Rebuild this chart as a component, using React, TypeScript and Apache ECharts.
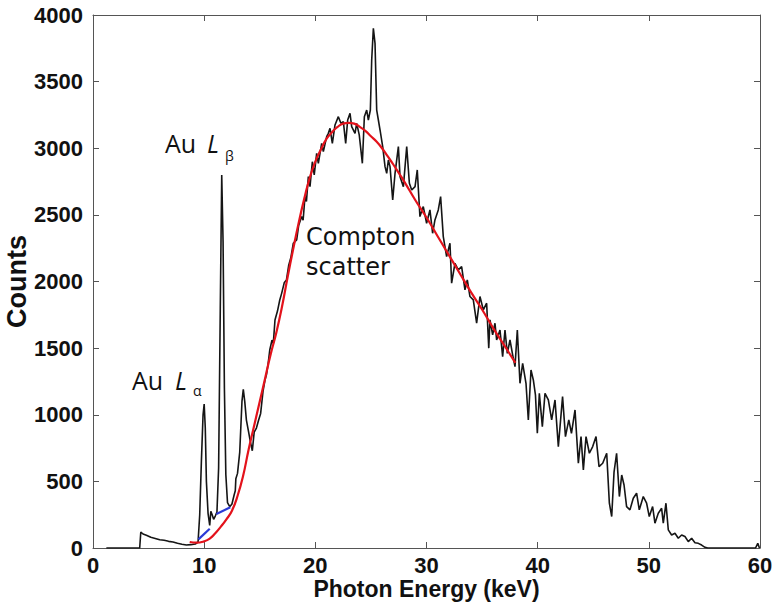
import React, { useEffect, useRef } from "react";
import * as echarts from "echarts";

// Measured spectrum (photon energy in keV, counts)
const specKeV = [
  1.2, 4.2, 4.3, 4.5, 4.8, 5.2, 5.6, 6.0, 6.4, 6.8, 7.2, 7.6, 8.0, 8.4, 8.8, 9.2, 9.45, 9.6, 9.75, 9.9,
  10.0, 10.1, 10.2, 10.35, 10.5, 10.6, 10.72, 10.85, 11.0, 11.15, 11.3, 11.45, 11.58, 11.7, 11.82, 11.95,
  12.1, 12.3, 12.5, 12.7, 12.8, 12.85, 13.0, 13.2, 13.4, 13.52, 13.65, 13.8, 14.0, 14.15, 14.33, 14.5,
  14.7, 14.9, 15.08, 15.3, 15.47, 15.6, 15.75, 15.9, 16.1, 16.22, 16.37, 16.6, 16.8, 16.97, 17.2, 17.4,
  17.6, 17.8, 18.02, 18.32, 18.5, 18.77, 18.9, 19.07, 19.2, 19.37, 19.52, 19.73, 19.9, 20.12, 20.27,
  20.57, 20.72, 21.02, 21.17, 21.32, 21.53, 21.77, 22.07, 22.3, 22.52, 22.73, 22.91, 23.12, 23.27,
  23.57, 23.72, 23.95, 24.23, 24.41, 24.62, 24.77, 24.95, 25.07, 25.22, 25.37, 25.52, 25.67, 25.82,
  26.06, 26.27, 26.42, 26.57, 26.72, 26.96, 27.17, 27.47, 27.62, 27.92, 28.22, 28.46, 28.67, 28.97,
  29.17, 29.41, 29.71, 30.01, 30.31, 30.55, 30.76, 31.06, 31.27, 31.51, 31.81, 32.11, 32.26, 32.56,
  32.86, 33.16, 33.46, 33.67, 33.91, 34.21, 34.51, 34.81, 35.11, 35.41, 35.6, 35.71, 35.95, 36.16,
  36.31, 36.61, 36.85, 37.06, 37.27, 37.51, 37.75, 37.96, 38.17, 38.41, 38.65, 38.95, 39.16, 39.4,
  39.61, 39.8, 39.97, 40.15, 40.42, 40.66, 40.96, 41.26, 41.56, 41.86, 42.24, 42.5, 42.8, 43.04,
  43.36, 43.66, 43.9, 44.11, 44.35, 44.65, 44.95, 45.25, 45.52, 45.85, 46.21, 46.45, 46.66, 46.87,
  47.1, 47.35, 47.56, 47.77, 48.0, 48.3, 48.6, 48.9, 49.14, 49.5, 49.8, 50.04, 50.34, 50.55, 50.85,
  51.15, 51.3, 51.54, 51.75, 52.05, 52.35, 52.65, 52.95, 53.25, 53.55, 53.85, 54.15, 54.45, 54.75,
  55.05, 55.3, 59.6, 59.8, 59.95, 60,
];
const specCounts = [
  0, 0, 120, 105, 95, 80, 72, 62, 58, 50, 45, 35, 28, 22, 25, 30, 45, 250, 650, 1000,
  1080, 900, 500, 260, 170, 275, 250, 215, 240, 270, 600, 1800, 2800, 2300, 1200, 550,
  340, 310, 330, 400, 430, 520, 560, 720, 1100, 1190, 1100, 960, 870, 800, 730, 870,
  900, 960, 1010, 1180, 1260, 1300, 1380, 1486, 1560, 1536, 1711, 1780, 1861, 1911, 1990, 2011,
  2120, 2180, 2287, 2312, 2420, 2487, 2460, 2637, 2600, 2787, 2712, 2899, 2800, 2962, 2887,
  3037, 2975, 3087, 3112, 3150, 3037, 3175, 3237, 3187, 3200, 3037, 3212, 3262, 3162,
  3112, 3187, 3100, 2887, 3237, 3287, 3212, 3287, 3662, 3900, 3787, 3287, 3212, 3137,
  3012, 2862, 2812, 2912, 2862, 2612, 2812, 3012, 2787, 2712, 3012, 2737, 2687, 2712,
  2837, 2487, 2562, 2437, 2537, 2362, 2462, 2537, 2637, 2337, 2187, 2287, 1987, 2137,
  2087, 2112, 1937, 2012, 1887, 1862, 1687, 1887, 1787, 1837, 1500, 1712, 1600, 1687,
  1561, 1636, 1436, 1636, 1461, 1561, 1450, 1361, 1636, 1236, 1386, 1236, 961, 1336,
  1261, 1150, 861, 1161, 911, 1161, 1111, 961, 1111, 761, 1136, 836, 961, 861,
  1036, 636, 836, 586, 836, 711, 761, 836, 611, 636, 711, 336, 236, 570,
  711, 386, 548, 473, 311, 286, 373, 411, 286, 386, 336, 236, 311, 186, 261,
  298, 186, 336, 136, 98, 111, 73, 98, 86, 48, 73, 40, 35, 22,
  5, 0, 0, 35, 0, 0,
];

// Compton scatter fit (red)
const fitKeV = [
  8.7, 9.3, 10, 10.5, 11, 11.5, 12, 12.5, 13, 13.5, 14, 14.5, 15, 15.5, 16, 16.5, 17, 17.5, 18, 18.5,
  19, 19.5, 20, 20.5, 21, 21.5, 22, 22.5, 23, 23.5, 24, 24.5, 25, 25.5, 26, 26.5, 27, 27.5, 28, 29,
  30, 31, 32, 33, 34, 35, 36, 37, 38,
];
const fitCounts = [
  45, 40, 50, 70, 110, 160, 215, 280, 390, 540, 740, 920, 1100, 1280, 1460, 1620, 1810, 2030, 2240, 2440,
  2620, 2780, 2900, 2990, 3070, 3120, 3160, 3185, 3190, 3185, 3160, 3130, 3090, 3050, 3000, 2940, 2880, 2815, 2750, 2610,
  2480, 2340, 2200, 2060, 1920, 1790, 1650, 1520, 1390,
];

// Linear backgrounds under the Au L peaks (blue)
const bgLaKeV = [9.48, 10.5];
const bgLaCounts = [65, 145];
const bgLbKeV = [11.1, 12.35];
const bgLbCounts = [255, 305];

const xMin = 0, xMax = 60, xStep = 10;
const yMin = 0, yMax = 4000, yStep = 500;

const pairs = (xs: number[], ys: number[]) => xs.map((x, i) => [x, ys[i]]);

const AXIS_COLOR = "#555";
const LABEL_FONT = "'Liberation Sans', Arial, sans-serif";
const NOTE_FONT = "'Open Sans', 'DejaVu Sans', sans-serif";
const COMPTON_FONT = "'DejaVu Sans', 'Open Sans', sans-serif";

export default function App() {
  const ref = useRef<HTMLDivElement>(null);
  useEffect(() => {
    if (!ref.current) return;
    const chart = echarts.init(ref.current, null, { renderer: "svg" });
    const baseAxisLine = { show: true, onZero: false, lineStyle: { color: AXIS_COLOR, width: 1 } };
    const tick = { show: true, inside: true, length: 6, lineStyle: { color: AXIS_COLOR } };
    const labelStyle = { color: "#111", fontFamily: LABEL_FONT, fontWeight: "bold", fontSize: 22, formatter: (v: number) => String(v) };
    chart.setOption({
      animation: false,
      backgroundColor: "#fff",
      grid: { left: 93, right: 20, top: 15, bottom: 57, containLabel: false, outerBoundsMode: "none" },
      xAxis: [
        {
          type: "value", min: xMin, max: xMax, interval: xStep, position: "bottom",
          axisLine: baseAxisLine, axisTick: tick, splitLine: { show: false },
          axisLabel: { ...labelStyle, margin: 6 },
          name: "Photon Energy (keV)", nameLocation: "middle", nameGap: 29, nameMoveOverlap: false,
          nameTextStyle: { color: "#111", fontFamily: LABEL_FONT, fontWeight: "bold", fontSize: 23 },
        },
        {
          type: "value", min: xMin, max: xMax, interval: xStep, position: "top",
          axisLine: baseAxisLine, axisTick: tick, axisLabel: { show: false }, splitLine: { show: false },
        },
      ],
      yAxis: [
        {
          type: "value", min: yMin, max: yMax, interval: yStep, position: "left",
          axisLine: baseAxisLine, axisTick: tick, splitLine: { show: false },
          axisLabel: { ...labelStyle, margin: 10 },
          name: "Counts", nameLocation: "middle", nameGap: 63, nameRotate: 90, nameMoveOverlap: false,
          nameTextStyle: { color: "#111", fontFamily: LABEL_FONT, fontWeight: "bold", fontSize: 27 },
        },
        {
          type: "value", min: yMin, max: yMax, interval: yStep, position: "right",
          axisLine: baseAxisLine, axisTick: tick, axisLabel: { show: false }, splitLine: { show: false },
        },
      ],
      series: [
        {
          name: "Spectrum", type: "line", data: pairs(specKeV, specCounts), showSymbol: false,
          lineStyle: { color: "#151515", width: 1.6 }, z: 2,
        },
        {
          name: "Compton fit", type: "line", data: pairs(fitKeV, fitCounts), showSymbol: false, smooth: true,
          lineStyle: { color: "#e3121b", width: 2.2 }, z: 3,
        },
        {
          name: "Au La background", type: "line", data: pairs(bgLaKeV, bgLaCounts), showSymbol: false,
          lineStyle: { color: "#2b3ad6", width: 2.2 }, z: 4,
        },
        {
          name: "Au Lb background", type: "line", data: pairs(bgLbKeV, bgLbCounts), showSymbol: false,
          lineStyle: { color: "#2b3ad6", width: 2.2 }, z: 4,
        },
      ],
      graphic: [
        { type: "text", left: 165, top: 130, style: { text: "Au", font: `25px ${NOTE_FONT}`, fill: "#111" } },
        { type: "text", left: 207, top: 130, style: { text: "L", font: `italic 25px ${NOTE_FONT}`, fill: "#111" } },
        { type: "text", left: 225, top: 148, style: { text: "β", font: `14px ${NOTE_FONT}`, fill: "#111" } },
        { type: "text", left: 132, top: 367, style: { text: "Au", font: `25px ${NOTE_FONT}`, fill: "#111" } },
        { type: "text", left: 175, top: 367, style: { text: "L", font: `italic 25px ${NOTE_FONT}`, fill: "#111" } },
        { type: "text", left: 193, top: 383, style: { text: "α", font: `14px ${NOTE_FONT}`, fill: "#111" } },
        {
          type: "text", left: 306, top: 222,
          style: { text: "Compton\nscatter", font: `24px ${COMPTON_FONT}`, lineHeight: 30, fill: "#111" },
        },
      ],
    });
    return () => chart.dispose();
  }, []);
  return <div ref={ref} style={{ position: "absolute", left: 0, top: 0, width: 780, height: 605 }} />;
}
